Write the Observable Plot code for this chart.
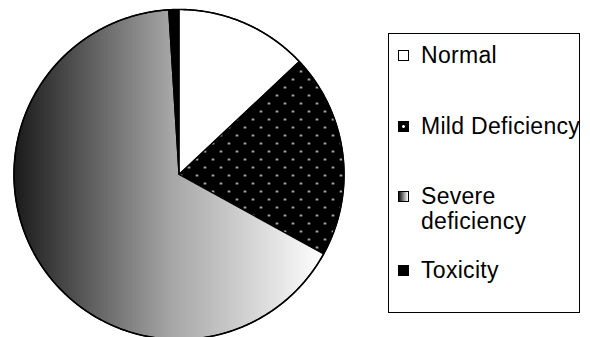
<!DOCTYPE html>
<html>
<head>
<meta charset="utf-8">
<script src="https://cdn.jsdelivr.net/npm/d3@7"></script>
<script src="https://cdn.jsdelivr.net/npm/@observablehq/plot@0.6"></script>
<style>
  html, body { margin: 0; padding: 0; background: #fff; }
  #wrap { position: relative; width: 590px; height: 337px; overflow: hidden; font-family: "Liberation Sans", Arial, sans-serif; }
  #chart { position: absolute; left: 0; top: 0; }
  #legend { position: absolute; left: 388px; top: 33px; width: 192px; height: 280px; border: 1px solid #000; box-sizing: border-box; }
  .item { position: absolute; left: 0; font-size: 23px; letter-spacing: 0.3px; line-height: 25px; color: #000; }
  .sw { position: absolute; width: 11px; height: 11px; box-sizing: border-box; border: 1px solid #000; }
  .txt { position: absolute; left: 32px; white-space: nowrap; }
</style>
</head>
<body>
<div id="wrap">
  <div id="chart"></div>
  <div id="legend"></div>
</div>
<script>
// ---- data ----
const categories = ["Normal", "Mild Deficiency", "Severe deficiency", "Toxicity"];
const values = [13, 20, 66, 1];
const legendLabels = [["Normal"], ["Mild Deficiency"], ["Severe", "deficiency"], ["Toxicity"]];

// ---- styles ----
const fills = ["#ffffff", "url(#dots)", "url(#grad)", "#000000"];

// build slice outlines from the values (angles clockwise from 12 o'clock)
const total = d3.sum(values);
let acc = 0;
const slices = categories.map((c, i) => {
  const a0 = acc / total * 2 * Math.PI;
  acc += values[i];
  const a1 = acc / total * 2 * Math.PI;
  const n = Math.max(2, Math.ceil((a1 - a0) / (Math.PI / 360)));
  const pts = [{cat: c, x: 0, y: 0}];
  for (let k = 0; k <= n; k++) {
    const a = a0 + (a1 - a0) * k / n;
    pts.push({cat: c, x: Math.sin(a), y: Math.cos(a)});
  }
  pts.push({cat: c, x: 0, y: 0});
  return pts;
});

const W = 590, H = 337;
const plot = Plot.plot({
  width: W,
  height: H,
  marginLeft: 13.5,
  marginRight: W - 343.5,
  marginTop: 9,
  marginBottom: 0,
  x: {domain: [-1, 1], axis: null},
  y: {domain: [-(H - 174) / 165, 1], axis: null},
  marks: slices.map((pts, i) =>
    Plot.line(pts, {x: "x", y: "y", fill: fills[i], stroke: "#000", strokeWidth: 1.2, strokeLinejoin: "round"})
  ).concat([
    Plot.line(slices.flatMap(s => s.slice(1, -1)), {x: "x", y: "y", stroke: "#000", strokeWidth: 1.6})
  ])
});

// patterns / gradient
const defs = d3.select(plot).insert("defs", ":first-child");
const pat = defs.append("pattern").attr("id", "dots").attr("patternUnits", "userSpaceOnUse")
  .attr("width", 16).attr("height", 16);
pat.append("rect").attr("width", 16).attr("height", 16).attr("fill", "#000");
pat.append("rect").attr("x", 3.5).attr("y", 14).attr("width", 2).attr("height", 2).attr("fill", "#d8d8d8");
pat.append("rect").attr("x", 11.5).attr("y", 6).attr("width", 2).attr("height", 2).attr("fill", "#d8d8d8");
const grad = defs.append("linearGradient").attr("id", "grad").attr("x1", 0).attr("x2", 1).attr("y1", 0).attr("y2", 0);
grad.append("stop").attr("offset", "0").attr("stop-color", "#1a1a1a");
grad.append("stop").attr("offset", "0.5").attr("stop-color", "#a4a4a4");
grad.append("stop").attr("offset", "1").attr("stop-color", "#ffffff");

document.getElementById("chart").appendChild(plot);

// legend
const baselines = [62, 133, 203, 277]; // page y of first text line baseline
const legend = document.getElementById("legend");
const swatchStyles = [
  "background:#fff;",
  "background:#000 radial-gradient(circle at 50% 50%, #fff 0 1.2px, transparent 1.6px);",
  "background:linear-gradient(to right,#111,#fff);",
  "background:#000;"
];
legendLabels.forEach((lines, i) => {
  const top = baselines[i] - 33 - 1 - 19;
  const item = document.createElement("div");
  item.className = "item";
  item.style.top = top + "px";
  item.style.width = "190px";
  const sw = document.createElement("div");
  sw.className = "sw";
  sw.style.cssText = "left:9px;top:7px;" + swatchStyles[i];
  item.appendChild(sw);
  const t = document.createElement("div");
  t.className = "txt";
  t.innerHTML = lines.join("<br>");
  item.appendChild(t);
  legend.appendChild(item);
});
</script>
</body>
</html>
